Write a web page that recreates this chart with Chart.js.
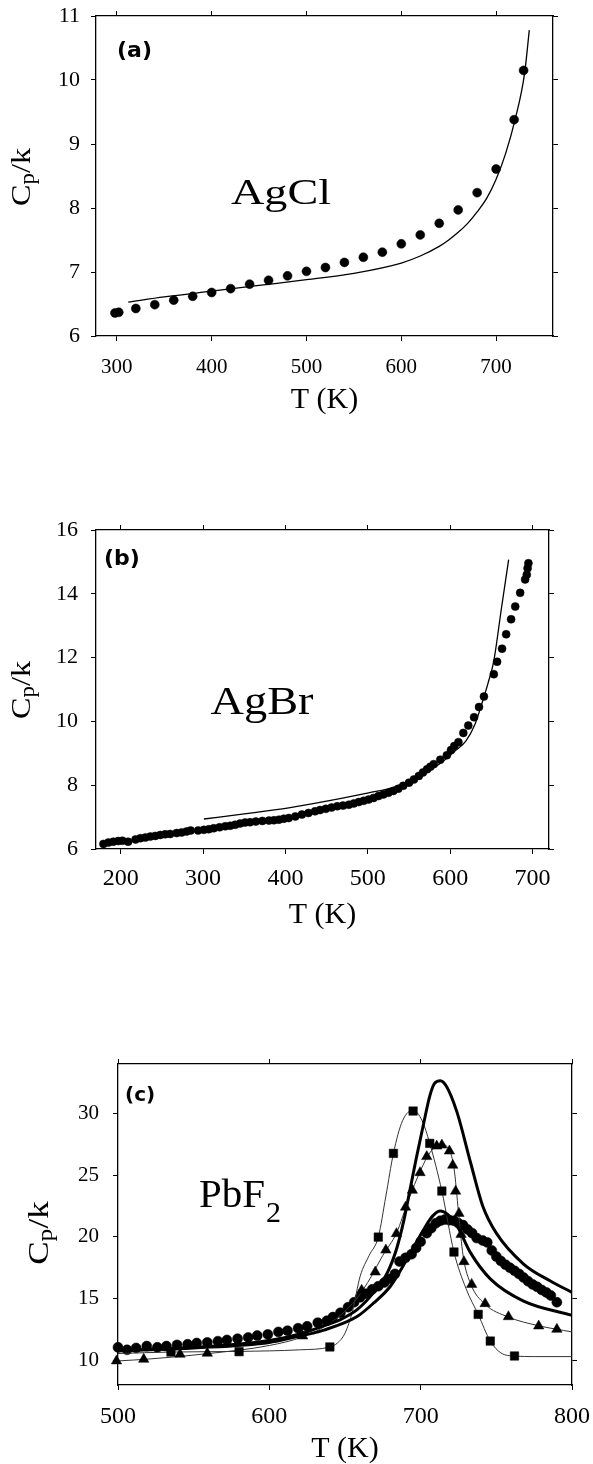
<!DOCTYPE html>
<html>
<head>
<meta charset="utf-8">
<script src="https://cdn.jsdelivr.net/npm/chart.js@4.4.1/dist/chart.umd.min.js"></script>
<style>
  html, body { margin: 0; padding: 0; background: #fff; }
  body { width: 593px; height: 1464px; position: relative; overflow: hidden; }
  .panel { position: absolute; left: 0; width: 593px; }
</style>
</head>
<body>
<div class="panel" style="top:0;height:430px"><canvas id="chartA"></canvas></div>
<div class="panel" style="top:480px;height:460px"><canvas id="chartB"></canvas></div>
<div class="panel" style="top:1000px;height:464px"><canvas id="chartC"></canvas></div>
<script>
'use strict';

// ---- (a) AgCl ----
var agclT  = [298, 302, 320, 340, 360, 380, 400, 420, 440, 460, 480, 500, 520, 540, 560, 580, 600, 620, 640, 660, 680, 700, 719, 729];
var agclCp = [6.36, 6.37, 6.43, 6.49, 6.56, 6.62, 6.68, 6.74, 6.81, 6.87, 6.94, 7.01, 7.07, 7.15, 7.23, 7.31, 7.44, 7.58, 7.76, 7.97, 8.24, 8.61, 9.38, 10.15];
var agclFitT  = [312, 350, 400, 450, 500, 550, 600, 620, 640, 650, 660, 670, 680, 690, 700, 710, 720, 730, 735];
var agclFitCp = [6.53, 6.61, 6.70, 6.79, 6.88, 6.98, 7.14, 7.25, 7.40, 7.50, 7.62, 7.76, 7.94, 8.15, 8.45, 8.85, 9.38, 10.1, 10.78];
var agclTicksT  = [300, 400, 500, 600, 700];
var agclTicksCp = [6, 7, 8, 9, 10, 11];

// ---- (b) AgBr ----
var agbrT  = [179, 185, 191, 197, 202, 209, 218, 224, 230, 236, 242, 248, 254, 260, 268, 274, 280, 285, 294, 301,
              307, 313, 320, 327, 333, 339, 345, 351, 357, 364, 372, 380, 386, 392, 398, 404, 412, 420, 428, 436,
              442, 449, 456, 463, 470, 477, 483, 489, 495, 501, 507, 513, 519, 525, 531, 537, 543, 550, 556, 562,
              567, 572, 576, 580, 588, 596, 601, 605, 610, 616, 622, 629, 635, 641, 653, 657, 663, 668, 674, 679,
              685, 691, 693, 694, 695];
var agbrCp = [6.16, 6.20, 6.23, 6.25, 6.26, 6.23, 6.30, 6.34, 6.36, 6.39, 6.41, 6.44, 6.46, 6.47, 6.50, 6.52, 6.55, 6.58, 6.58, 6.60,
              6.62, 6.65, 6.68, 6.71, 6.73, 6.76, 6.80, 6.83, 6.84, 6.86, 6.88, 6.89, 6.90, 6.92, 6.95, 6.97, 7.02, 7.08, 7.13, 7.18,
              7.22, 7.26, 7.30, 7.34, 7.36, 7.39, 7.43, 7.47, 7.51, 7.55, 7.60, 7.66, 7.71, 7.76, 7.82, 7.89, 7.98, 8.08, 8.18, 8.29,
              8.40, 8.50, 8.58, 8.66, 8.80, 8.94, 9.10, 9.23, 9.35, 9.64, 9.87, 10.13, 10.45, 10.78, 11.48, 11.87, 12.28, 12.73, 13.20, 13.60,
              14.03, 14.45, 14.60, 14.80, 14.96];
var agbrFitT  = [301, 350, 404, 450, 501, 533, 566, 590, 605, 619, 630, 639, 646, 653, 662, 671];
var agbrFitCp = [6.94, 7.10, 7.29, 7.50, 7.76, 7.95, 8.34, 8.72, 9.05, 9.38, 9.90, 10.6, 11.2, 11.9, 13.5, 15.07];
var agbrTicksT  = [200, 300, 400, 500, 600, 700];
var agbrTicksCp = [6, 8, 10, 12, 14, 16];

// ---- (c) PbF2 ----
var pbCircT  = [500, 506, 512, 519, 526, 532, 539, 546, 552, 559, 566, 572, 579, 586, 592, 599, 606, 612, 619, 625,
                632, 638, 642, 647, 652, 656, 660, 664, 668, 672, 676, 680, 683, 686, 690, 694, 697, 700, 704, 707,
                710, 713, 716, 719, 722, 725, 728, 731, 734, 737, 741, 744, 747, 750, 753, 756, 759, 762, 765, 768,
                771, 774, 777, 780, 783, 786, 790];
var pbCircCp = [11.05, 10.85, 11.0, 11.15, 11.05, 11.15, 11.25, 11.3, 11.4, 11.45, 11.55, 11.65, 11.75, 11.85, 12.0, 12.1, 12.3, 12.4, 12.6, 12.75,
                13.05, 13.2, 13.5, 13.85, 14.3, 14.7, 15.1, 15.4, 15.75, 16.0, 16.3, 16.6, 17.0, 18.0, 18.3, 18.6, 19.1, 19.6, 20.3, 20.7,
                21.1, 21.3, 21.4, 21.35, 21.3, 21.1, 20.95, 20.6, 20.3, 19.9, 19.7, 19.55, 18.9, 18.4, 18.05, 17.75, 17.5, 17.25, 17.0, 16.7,
                16.4, 16.15, 15.95, 15.7, 15.5, 15.25, 14.7];
var pbSqT  = [535, 580, 640, 672, 682, 695, 706, 714, 722, 738, 746, 762];
var pbSqCp = [10.67, 10.7, 11.08, 19.98, 26.76, 30.19, 27.57, 23.71, 18.77, 13.72, 11.56, 10.35];
var pbSqFitT  = [500, 535, 580, 620, 640, 645, 650, 655, 660, 666, 672, 677, 682, 688, 695, 701, 706, 714, 722, 730, 738, 746, 753, 762, 775, 800];
var pbSqFitCp = [10.55, 10.67, 10.72, 10.85, 11.08, 11.4, 12.2, 14.0, 16.8, 18.5, 19.98, 23.3, 26.76, 29.4, 30.25, 29.4, 27.57, 23.71, 18.77, 15.8, 13.72, 11.56, 10.6, 10.35, 10.3, 10.3];
var pbTriT  = [499, 517, 541, 559, 622, 661, 670, 677, 684, 690, 694.5, 699.6, 704, 710.6, 714, 719, 721.2, 723.1, 725.3, 726.7, 728.6, 733.7, 742.6, 758, 778, 790];
var pbTriCp = [9.95, 10.08, 10.49, 10.57, 11.97, 15.67, 17.15, 18.93, 20.26, 22.4, 23.77, 25.2, 26.5, 27.35, 27.43, 26.95, 25.8, 23.7, 21.9, 20.2, 17.99, 16.15, 14.59, 13.53, 12.78, 12.51];
var pbTriFitT  = [500, 520, 560, 600, 622, 640, 655, 665, 675, 684, 692, 700, 706, 711, 715, 719, 722, 725, 728, 733, 742, 758, 778, 800];
var pbTriFitCp = [9.95, 10.1, 10.55, 11.2, 11.9, 13.0, 14.6, 16.3, 18.5, 20.3, 23.0, 25.4, 26.8, 27.35, 27.45, 27.0, 25.6, 22.0, 18.5, 16.2, 14.6, 13.5, 12.8, 12.3];
var pbModel1T  = [500, 550, 600, 622, 636, 647, 658, 669, 678, 684, 689, 693, 697, 702, 706, 709, 713, 717, 724, 733, 741, 750, 768, 786, 800];
var pbModel1Cp = [10.8, 11.05, 11.6, 12.2, 12.8, 13.3, 14.1, 15.5, 17.1, 19.0, 21.4, 23.85, 26.3, 29.2, 31.4, 32.4, 32.65, 32.2, 30.1, 26.0, 22.5, 20.3, 17.8, 16.4, 15.5];
var pbModel2T  = [500, 550, 600, 614, 636, 658, 669, 680, 691, 702, 708, 713, 718, 724, 733, 746, 768, 800];
var pbModel2Cp = [10.75, 11.0, 11.45, 11.8, 12.45, 13.55, 14.65, 16.0, 18.2, 20.6, 21.7, 22.1, 21.8, 20.9, 18.7, 16.6, 14.8, 13.65];
var pbTicksT  = [500, 600, 700, 800];
var pbTicksCp = [10, 15, 20, 25, 30];

Chart.defaults.font.family = '"Liberation Serif", "Times New Roman", serif';
Chart.defaults.color = '#000';

function pts(xs, ys) {
  return xs.map(function (x, i) { return { x: x, y: ys[i] }; });
}

// force each axis box to a fixed size so the plot box lands where it should
function fixSize(size) {
  return function (axis) {
    if (axis.isHorizontal()) axis.height = size; else axis.width = size;
    axis.paddingLeft = axis.paddingRight = axis.paddingTop = axis.paddingBottom = 0;
  };
}
function useTicks(vals) {
  return function (axis) { axis.ticks = vals.map(function (v) { return { value: v }; }); };
}

function axis(pos, min, max, vals, size, opts) {
  opts = opts || {};
  return {
    type: 'linear', position: pos, min: min, max: max,
    afterBuildTicks: useTicks(vals),
    afterFit: fixSize(size),
    grid: { display: true, drawOnChartArea: false, drawTicks: true, tickLength: 5, color: '#000', lineWidth: 1 },
    border: { display: true, color: '#000', width: 1.3 },
    ticks: opts.font ? { display: true, autoSkip: false, maxRotation: 0, padding: opts.pad, font: { size: opts.font }, color: '#000' }
                     : { display: false },
    title: opts.title ? { display: true, text: opts.title, color: '#000', font: { size: 30, lineHeight: 1 }, padding: { top: 0, bottom: opts.titlePad } }
                      : { display: false }
  };
}

// panel tag, compound name and the rotated Cp/k label
var decor = {
  id: 'decor',
  afterDraw: function (chart) {
    var o = chart.options.plugins.decor;
    if (!o || !o.tag) return;
    var ctx = chart.ctx;
    var top = o.top;
    ctx.save();
    ctx.fillStyle = '#000';
    ctx.textBaseline = 'alphabetic';

    ctx.font = 'bold ' + o.tagSize + 'px "DejaVu Sans"';
    ctx.textAlign = 'left';
    ctx.fillText(o.tag, o.tagX, o.tagY - top);

    var serif = 'px "Liberation Serif"';
    ctx.font = o.nameSize + serif;
    var w = ctx.measureText(o.name).width;
    ctx.save();
    ctx.translate(o.nameX, o.nameY - top);
    ctx.scale(o.nameW ? o.nameW / w : 1, 1);
    ctx.textAlign = o.nameW ? 'center' : 'left';
    ctx.fillText(o.name, 0, 0);
    ctx.restore();
    if (o.sub) {
      ctx.font = o.subSize + serif;
      ctx.fillText(o.sub, o.nameX + w + 1, o.subY - top);
    }

    // Cp/k with subscript p, reading upwards
    var s = o.cpSize, ss = Math.round(s * 0.72);
    ctx.font = s + serif; var wC = ctx.measureText('C').width; var wk = ctx.measureText('/k').width;
    ctx.font = ss + serif; var wp = ctx.measureText('p').width;
    ctx.translate(o.cpX, o.cpY - top);
    ctx.rotate(-Math.PI / 2);
    ctx.scale(o.cpStretch, 1);
    var x = -(wC + wp + wk) / 2;
    ctx.textAlign = 'left';
    ctx.font = s + serif; ctx.fillText('C', x, 0); x += wC;
    ctx.font = ss + serif; ctx.fillText('p', x, s * 0.13); x += wp;
    ctx.font = s + serif; ctx.fillText('/k', x, 0);
    ctx.restore();
  }
};
Chart.register(decor);

function baseOptions(scales, deco) {
  return {
    responsive: true,
    maintainAspectRatio: false,
    animation: false,
    layout: { padding: 0 },
    plugins: { legend: { display: false }, tooltip: { enabled: false }, decor: deco },
    scales: scales
  };
}

function dots(data, r, style) {
  return { data: data, showLine: false, pointStyle: style || 'circle', pointRadius: r,
           pointBackgroundColor: '#000', pointBorderColor: '#000', pointBorderWidth: 0.5, clip: false };
}
function curve(data, width, color) {
  return { data: data, showLine: true, pointRadius: 0, borderColor: color || '#000', borderWidth: width,
           cubicInterpolationMode: 'monotone', fill: false };
}

// (a)
new Chart(document.getElementById('chartA'), {
  type: 'scatter',
  data: { datasets: [curve(pts(agclFitT, agclFitCp), 1.3), dots(pts(agclT, agclCp), 4.5)] },
  options: baseOptions({
    x:  axis('bottom', 278, 760, agclTicksT, 94, { font: 21, pad: 14, title: 'T (K)', titlePad: 15 }),
    x2: axis('top', 278, 760, agclTicksT, 16),
    y:  axis('left', 6, 11, agclTicksCp, 96, { font: 22, pad: 11 }),
    y2: axis('right', 6, 11, agclTicksCp, 40)
  }, { top: 0, tag: '(a)', tagX: 117, tagY: 57, tagSize: 22,
       name: 'AgCl', nameX: 281, nameY: 204, nameSize: 35, nameW: 100,
       cpX: 30, cpY: 177, cpSize: 28, cpStretch: 1.15 })
});

// (b)
new Chart(document.getElementById('chartB'), {
  type: 'scatter',
  data: { datasets: [curve(pts(agbrFitT, agbrFitCp), 1.3), dots(pts(agbrT, agbrCp), 4)] },
  options: baseOptions({
    x:  axis('bottom', 170, 720, agbrTicksT, 91, { font: 24, pad: 10, title: 'T (K)', titlePad: 10 }),
    x2: axis('top', 170, 720, agbrTicksT, 50),
    y:  axis('left', 6, 16, agbrTicksCp, 96, { font: 22, pad: 13 }),
    y2: axis('right', 6, 16, agbrTicksCp, 44)
  }, { top: 480, tag: '(b)', tagX: 104, tagY: 565, tagSize: 22,
       name: 'AgBr', nameX: 262, nameY: 714, nameSize: 39, nameW: 103,
       cpX: 30, cpY: 690, cpSize: 28, cpStretch: 1.15 })
});

// (c)
new Chart(document.getElementById('chartC'), {
  type: 'scatter',
  data: { datasets: [
    curve(pts(pbModel1T, pbModel1Cp), 3),
    curve(pts(pbModel2T, pbModel2Cp), 3),
    dots(pts(pbSqT, pbSqCp), 6, 'rect'),
    dots(pts(pbTriT, pbTriCp), 6, 'triangle'),
    curve(pts(pbSqFitT, pbSqFitCp), 1, '#333'),
    curve(pts(pbTriFitT, pbTriFitCp), 1, '#333'),
    dots(pts(pbCircT, pbCircCp), 5)
  ] },
  options: baseOptions({
    x:  axis('bottom', 500, 800, pbTicksT, 79, { font: 24, pad: 12, title: 'T (K)', titlePad: 0 }),
    x2: axis('top', 500, 800, pbTicksT, 64),
    y:  axis('left', 8, 34, pbTicksCp, 118, { font: 21, pad: 14 }),
    y2: axis('right', 8, 34, pbTicksCp, 21)
  }, { top: 1000, tag: '(c)', tagX: 125, tagY: 1101, tagSize: 20,
       name: 'PbF', nameX: 199, nameY: 1207, nameSize: 41, sub: '2', subY: 1222, subSize: 30,
       cpX: 48, cpY: 1233, cpSize: 30, cpStretch: 1.17 })
});
</script>
</body>
</html>
